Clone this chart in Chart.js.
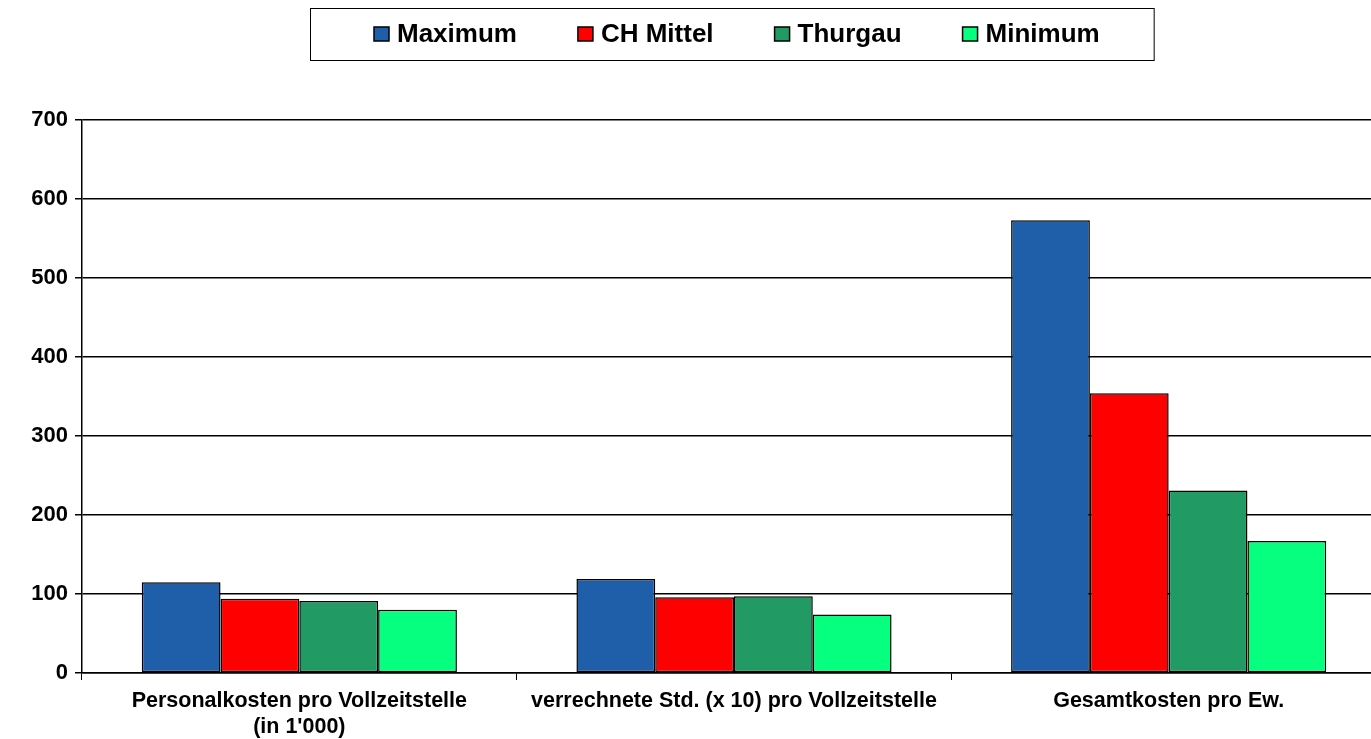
<!DOCTYPE html>
<html>
<head>
<meta charset="utf-8">
<script src="https://cdn.jsdelivr.net/npm/chart.js@4.4.1/dist/chart.umd.min.js"></script>
<style>
  html, body { margin: 0; padding: 0; background: #fff; overflow: hidden; }
  #wrap { width: 1371px; height: 739px; overflow: hidden; }
</style>
</head>
<body>
<div id="wrap"><canvas id="chart" width="1386" height="739"></canvas></div>
<script>
// Data
const categories = [
    ['Personalkosten pro Vollzeitstelle', "(in 1'000)"],
    'verrechnete Std. (x 10) pro Vollzeitstelle',
    'Gesamtkosten pro Ew.'
];
const seriesNames = ['Maximum', 'CH Mittel', 'Thurgau', 'Minimum'];
const maximum = [115, 119, 573];
const chMittel = [94, 96, 354];
const thurgau = [91, 97, 231];
const minimum = [80, 74, 167];
const seriesColors = ['#1F5EA8', '#FF0000', '#229A63', '#06FF7F'];
const yTicks = [0, 100, 200, 300, 400, 500, 600, 700];

const seriesValues = [maximum, chMittel, thurgau, minimum];
const FONT = 'Liberation Sans, Arial, sans-serif';

// Framed legend drawn at the top, like the original
const framedLegend = {
    id: 'framedLegend',
    afterDraw(chart) {
        const ctx = chart.ctx;
        ctx.save();
        ctx.font = 'bold 26px ' + FONT;
        ctx.textBaseline = 'middle';
        let x = 374;
        const midY = 34;
        chart.data.datasets.forEach((ds, i) => {
            ctx.fillStyle = ds.backgroundColor;
            ctx.fillRect(x, midY - 7, 15, 14);
            ctx.strokeStyle = '#000';
            ctx.lineWidth = 1.5;
            ctx.strokeRect(x, midY - 7, 15, 14);
            ctx.fillStyle = '#000';
            ctx.fillText(ds.label, x + 23, midY + 1);
            x += 23 + ctx.measureText(ds.label).width;
            if (i < chart.data.datasets.length - 1) x += 61;
        });
        ctx.strokeStyle = '#000';
        ctx.lineWidth = 1;
        ctx.strokeRect(310.5, 8.5, x + 54 - 310, 52);
        ctx.restore();
    }
};

const ctx = document.getElementById('chart').getContext('2d');
new Chart(ctx, {
    type: 'bar',
    data: {
        labels: categories,
        datasets: seriesNames.map((name, i) => ({
            label: name,
            data: seriesValues[i],
            backgroundColor: seriesColors[i],
            borderColor: '#000',
            borderWidth: 1.5,
            borderSkipped: false
        }))
    },
    options: {
        responsive: false,
        animation: false,
        devicePixelRatio: 1,
        layout: { padding: { left: 0, right: 0, top: 120, bottom: 0 } },
        datasets: {
            bar: { categoryPercentage: 0.725, barPercentage: 1 }
        },
        plugins: {
            legend: { display: false },
            tooltip: { enabled: false }
        },
        scales: {
            x: {
                offset: true,
                afterFit(scale) { scale.height = 66; },
                grid: {
                    offset: true,
                    drawOnChartArea: false,
                    drawTicks: true,
                    tickLength: 7,
                    color: '#000',
                    lineWidth: 1
                },
                border: { color: '#000', width: 1.5 },
                ticks: {
                    color: '#000',
                    maxRotation: 0,
                    autoSkip: false,
                    padding: 8,
                    font: { family: FONT, size: 21.5, weight: 'bold', lineHeight: 1.2 }
                }
            },
            y: {
                min: 0,
                max: 700,
                afterFit(scale) { scale.width = 82; },
                afterBuildTicks(axis) {
                    axis.ticks = yTicks.map(v => ({ value: v }));
                },
                grid: {
                    color: '#000',
                    lineWidth: 1.5,
                    tickLength: 7
                },
                border: { color: '#000', width: 1.5 },
                ticks: {
                    color: '#000',
                    padding: 7,
                    font: { family: FONT, size: 22, weight: 'bold' }
                }
            }
        }
    },
    plugins: [framedLegend]
});
</script>
</body>
</html>
